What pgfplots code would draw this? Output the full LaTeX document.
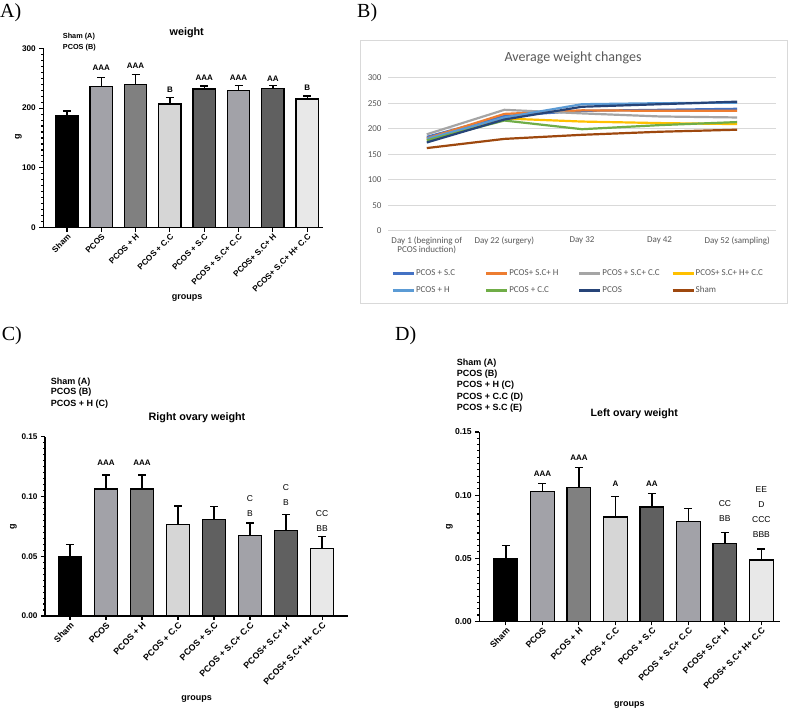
\documentclass[border=0pt]{standalone}
\usepackage{pgfplots}
\pgfplotsset{compat=1.18}
\usepackage{fontspec}
\setmainfont{Liberation Sans}
\newfontfamily\calib{Carlito}
\newfontfamily\timesf{Liberation Serif}
\newcommand{\fs}[1]{\fontsize{#1}{#1}\selectfont}
\definecolor{gA}{HTML}{A2A2A8}
\definecolor{gB}{HTML}{808080}
\definecolor{gC}{HTML}{D6D6D6}
\definecolor{gD}{HTML}{606060}
\definecolor{gE}{HTML}{E8E8E8}
\definecolor{xgrid}{HTML}{D9D9D9}
\definecolor{xtext}{HTML}{595959}
\definecolor{c1}{HTML}{4472C4}
\definecolor{c2}{HTML}{ED7D31}
\definecolor{c3}{HTML}{A5A5A5}
\definecolor{c4}{HTML}{FFC000}
\definecolor{c5}{HTML}{5B9BD5}
\definecolor{c6}{HTML}{70AD47}
\definecolor{c7}{HTML}{264478}
\definecolor{c8}{HTML}{9E480E}
\pgfplotsset{
  b/.style={bar shift=0pt, draw=black, line width=1.3pt, fill=#1},
  gp/.style={
    scale only axis, anchor=south west,
    axis lines=left, axis line style={line width=1.3pt, -},
    ybar, bar width=0.65, ymin=0,
    xtick={0,...,7},
    xticklabels={Sham, PCOS, PCOS + H, PCOS + C.C, PCOS + S.C, PCOS + S.C+ C.C, PCOS+ S.C+ H, PCOS+ S.C+ H+ C.C},
    xticklabel style={rotate=45, anchor=north east, inner sep=1pt},
    tick align=outside, major tick length=4pt, minor tick length=2pt,
    tick style={line width=1.1pt, black},
    minor y tick num=9, clip=false,
    /pgf/number format/assume math mode=true,
    error bars/y dir=plus, error bars/y explicit,
    error bars/error bar style={line width=1.3pt, black},
    error bars/error mark options={rotate=90, mark size=4pt, line width=1.3pt, black},
  },
}
\begin{document}
\begin{tikzpicture}
\path[use as bounding box] (0,0) rectangle (789pt,711pt);
% panel letters
\node[anchor=base west, inner sep=0pt, font=\timesf\fs{20}] at (0pt,693.5pt) {A)};
\node[anchor=base west, inner sep=0pt, font=\timesf\fs{20}] at (357pt,693.5pt) {B)};
\node[anchor=base west, inner sep=0pt, font=\timesf\fs{20}] at (1.7pt,370.3pt) {C)};
\node[anchor=base west, inner sep=0pt, font=\timesf\fs{20}] at (395pt,370.3pt) {D)};

% ---------------- Panel A ----------------
\begin{axis}[gp, at={(43.3pt,483.3pt)}, width=280pt, height=179.4pt,
  xmin=-0.69, xmax=7.47, ymax=300, ytick={0,100,200,300},
  xticklabel style={font=\bfseries\fs{8.2}},
  yticklabel style={font=\bfseries\fs{8.2}}]
\addplot[b=black] coordinates {(0,187) +- (0,8)};
\addplot[b=gA] coordinates {(1,236) +- (0,15.5)};
\addplot[b=gB] coordinates {(2,240) +- (0,16)};
\addplot[b=gC] coordinates {(3,207) +- (0,11)};
\addplot[b=gD] coordinates {(4,232) +- (0,5)};
\addplot[b=gA] coordinates {(5,229.5) +- (0,8)};
\addplot[b=gD] coordinates {(6,233) +- (0,4.5)};
\addplot[b=gE] coordinates {(7,215) +- (0,5)};
\begin{scope}[every node/.style={font=\bfseries\fs{8}}]
\node at (axis cs:1,267.6) {AAA};
\node at (axis cs:2,270.4) {AAA};
\node at (axis cs:3,231.4) {B};
\node at (axis cs:4,250.8) {AAA};
\node at (axis cs:5,250.8) {AAA};
\node at (axis cs:6,249.8) {AA};
\node at (axis cs:7,234.8) {B};
\end{scope}
\end{axis}
\node[anchor=west, inner sep=0pt, font=\bfseries\fs{7.3}] at (62.7pt,674.3pt) {Sham (A)};
\node[anchor=west, inner sep=0pt, font=\bfseries\fs{7.3}] at (62.7pt,663.7pt) {PCOS (B)};
\node[font=\bfseries\fs{10.8}] at (186.7pt,678.3pt) {weight};
\node[rotate=90, font=\bfseries\fs{9}] at (18.3pt,574.3pt) {g};
\node[font=\bfseries\fs{9}] at (187pt,413.3pt) {groups};

% ---------------- Panel B ----------------
\draw[xgrid, line width=0.8pt, fill=white] (360pt,408pt) rectangle (787pt,670.3pt);
\node[font=\calib\fs{14}, text=xtext] at (573pt,653pt) {Average weight changes};
\begin{axis}[at={(388pt,480.3pt)}, anchor=south west, scale only axis,
  width=388pt, height=153pt, xmin=-0.5, xmax=4.5, ymin=0, ymax=300,
  ytick={0,50,...,300}, xtick={0,...,4},
  xticklabels={{Day 1 (beginning of\\PCOS induction)},{Day 22 (surgery)},{Day 32},{Day 42},{Day 52 (sampling)}},
  xticklabel style={align=center, font=\calib\fs{9}, text=xtext, inner sep=1pt, yshift=-5pt},
  yticklabel style={font=\calib\fs{9}, text=xtext, xshift=-3pt},
  /pgf/number format/assume math mode=true,
  axis line style={draw=none}, major tick length=0pt,
  ymajorgrids, grid style={xgrid, line width=0.8pt},
  legend columns=4,
  legend style={at={(0.0095,-0.248)}, anchor=north west, draw=none, fill=none,
    font=\calib\fs{9}, text=xtext, column sep=0pt, row sep=7.5pt, inner sep=0pt,
    nodes={inner xsep=1pt, inner ysep=1pt}},
  legend image code/.code={\draw[#1, line width=2.2pt] (0pt,0pt) -- (21pt,0pt);},
  every axis plot/.append style={line width=2.2pt, mark=none}]
\addplot[c1] coordinates {(0,184) (1,225) (2,235) (3,237) (4,239)};
\addlegendentry{\makebox[68pt][l]{PCOS + S.C}}
\addplot[c2] coordinates {(0,181) (1,229) (2,236) (3,235) (4,235)};
\addlegendentry{\makebox[68pt][l]{PCOS+ S.C+ H}}
\addplot[c3] coordinates {(0,189) (1,237) (2,230) (3,224) (4,222)};
\addlegendentry{\makebox[68pt][l]{PCOS + S.C+ C.C}}
\addplot[c4] coordinates {(0,178) (1,220) (2,214) (3,211) (4,209)};
\addlegendentry{\makebox[68pt][l]{PCOS+ S.C+ H+ C.C}}
\addplot[c5] coordinates {(0,180) (1,222) (2,248) (3,250) (4,251)};
\addlegendentry{\makebox[68pt][l]{PCOS + H}}
\addplot[c6] coordinates {(0,177) (1,216) (2,199) (3,207) (4,213)};
\addlegendentry{\makebox[68pt][l]{PCOS + C.C}}
\addplot[c7] coordinates {(0,173) (1,218) (2,243) (3,248) (4,253)};
\addlegendentry{\makebox[68pt][l]{PCOS}}
\addplot[c8] coordinates {(0,162) (1,180) (2,188) (3,194) (4,198)};
\addlegendentry{\makebox[68pt][l]{Sham}}
\end{axis}

% ---------------- Panel C ----------------
\begin{axis}[gp, at={(45pt,95pt)}, width=303pt, height=179.3pt,
  xmin=-0.694, xmax=7.72, ymax=0.15, ytick={0,0.05,0.1,0.15},
  yticklabel style={font=\bfseries\fs{8.2}, /pgf/number format/.cd, fixed, fixed zerofill, precision=2},
  xticklabel style={font=\bfseries\fs{8.8}}]
\addplot[b=black] coordinates {(0,0.0496) +- (0,0.0104)};
\addplot[b=gA] coordinates {(1,0.1062) +- (0,0.0118)};
\addplot[b=gB] coordinates {(2,0.1062) +- (0,0.0118)};
\addplot[b=gC] coordinates {(3,0.0764) +- (0,0.0156)};
\addplot[b=gD] coordinates {(4,0.0806) +- (0,0.0111)};
\addplot[b=gA] coordinates {(5,0.0672) +- (0,0.0106)};
\addplot[b=gD] coordinates {(6,0.0717) +- (0,0.0133)};
\addplot[b=gE] coordinates {(7,0.0566) +- (0,0.0098)};
\begin{scope}[every node/.style={font=\bfseries\fs{8}}]
\node at (axis cs:1,0.128) {AAA};
\node at (axis cs:2,0.128) {AAA};
\end{scope}
\begin{scope}[every node/.style={font=\fs{8.5}}]
\node at (axis cs:5,0.0979) {C};
\node at (axis cs:5,0.0856) {B};
\node at (axis cs:6,0.1077) {C};
\node at (axis cs:6,0.0948) {B};
\node at (axis cs:7,0.0853) {CC};
\node at (axis cs:7,0.0728) {BB};
\end{scope}
\end{axis}
\node[anchor=west, inner sep=0pt, font=\bfseries\fs{9}] at (50.7pt,329.3pt) {Sham (A)};
\node[anchor=west, inner sep=0pt, font=\bfseries\fs{9}] at (50.7pt,318.7pt) {PCOS (B)};
\node[anchor=west, inner sep=0pt, font=\bfseries\fs{9}] at (50.7pt,307.3pt) {PCOS + H (C)};
\node[font=\bfseries\fs{10.8}] at (197pt,293pt) {Right ovary weight};
\node[rotate=90, font=\bfseries\fs{9}] at (13.3pt,184.3pt) {g};
\node[font=\bfseries\fs{9}] at (196.7pt,11.7pt) {groups};

% ---------------- Panel D ----------------
\begin{axis}[gp, at={(479.3pt,89.7pt)}, width=300.7pt, height=189.3pt,
  xmin=-0.73, xmax=7.51, ymax=0.15, ytick={0,0.05,0.1,0.15},
  yticklabel style={font=\bfseries\fs{8.6}, /pgf/number format/.cd, fixed, fixed zerofill, precision=2},
  xticklabel style={font=\bfseries\fs{8.7}}]
\addplot[b=black] coordinates {(0,0.0497) +- (0,0.0103)};
\addplot[b=gA] coordinates {(1,0.1027) +- (0,0.0063)};
\addplot[b=gB] coordinates {(2,0.106) +- (0,0.016)};
\addplot[b=gC] coordinates {(3,0.0827) +- (0,0.0161)};
\addplot[b=gD] coordinates {(4,0.0906) +- (0,0.0104)};
\addplot[b=gA] coordinates {(5,0.079) +- (0,0.0105)};
\addplot[b=gD] coordinates {(6,0.0615) +- (0,0.009)};
\addplot[b=gE] coordinates {(7,0.0486) +- (0,0.0087)};
\begin{scope}[every node/.style={font=\bfseries\fs{8}}]
\node at (axis cs:1,0.1167) {AAA};
\node at (axis cs:2,0.1292) {AAA};
\node at (axis cs:3,0.1086) {A};
\node at (axis cs:4,0.1088) {AA};
\end{scope}
\begin{scope}[every node/.style={font=\fs{8.5}}]
\node at (axis cs:6,0.0929) {CC};
\node at (axis cs:6,0.0813) {BB};
\node at (axis cs:7,0.1046) {EE};
\node at (axis cs:7,0.0927) {D};
\node at (axis cs:7,0.0805) {CCC};
\node at (axis cs:7,0.0689) {BBB};
\end{scope}
\end{axis}
\node[anchor=west, inner sep=0pt, font=\bfseries\fs{9}] at (456.7pt,348pt) {Sham (A)};
\node[anchor=west, inner sep=0pt, font=\bfseries\fs{9}] at (456.7pt,337.3pt) {PCOS (B)};
\node[anchor=west, inner sep=0pt, font=\bfseries\fs{9}] at (456.7pt,325.7pt) {PCOS + H (C)};
\node[anchor=west, inner sep=0pt, font=\bfseries\fs{9}] at (456.7pt,314.3pt) {PCOS + C.C (D)};
\node[anchor=west, inner sep=0pt, font=\bfseries\fs{9}] at (456.7pt,303pt) {PCOS + S.C (E)};
\node[font=\bfseries\fs{10.6}] at (634.3pt,297pt) {Left ovary weight};
\node[rotate=90, font=\bfseries\fs{9}] at (449.3pt,184.3pt) {g};
\node[font=\bfseries\fs{9}] at (629.3pt,6pt) {groups};
\end{tikzpicture}
\end{document}
